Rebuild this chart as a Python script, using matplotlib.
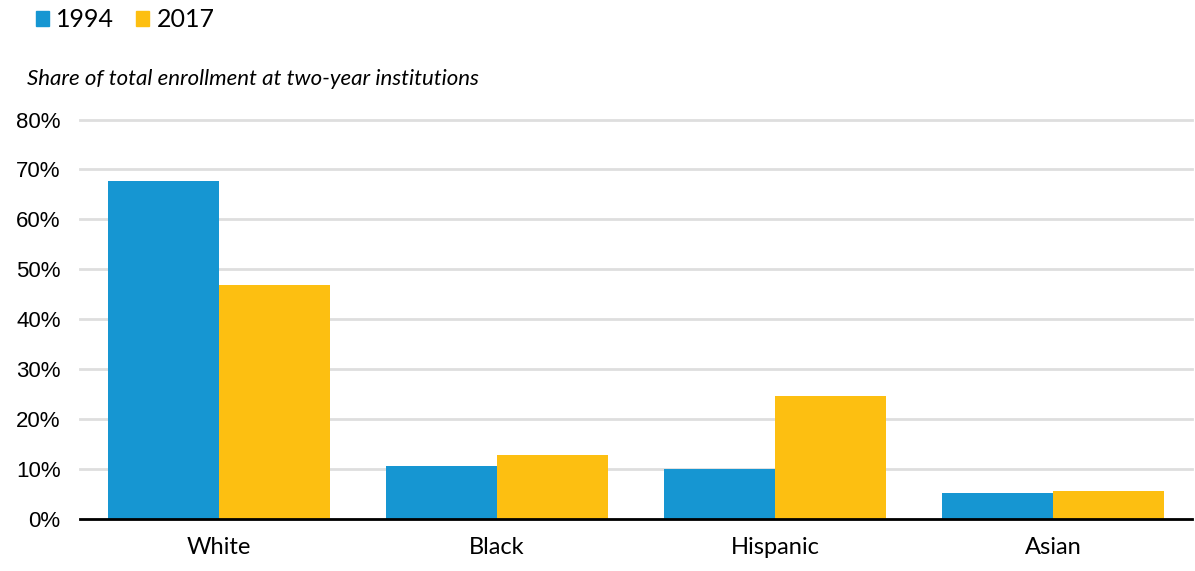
import matplotlib.pyplot as plt
import numpy as np
from matplotlib.patches import Patch

# Share of total enrollment at two-year institutions, by race/ethnicity
categories = ["White", "Black", "Hispanic", "Asian"]
share_1994 = [67.7, 10.7, 10.1, 5.3]
share_2017 = [46.8, 12.9, 24.6, 5.7]
years = ["1994", "2017"]

blue = "#1696d2"
yellow = "#fdbf11"

fig = plt.figure(figsize=(11.95, 5.71), dpi=100)
ax = fig.add_axes([0.0669, 0.0911, 0.9306, 0.6996])

x = np.arange(len(categories))
width = 0.4
ax.bar(x - width / 2, share_1994, width, color=blue, zorder=3)
ax.bar(x + width / 2, share_2017, width, color=yellow, zorder=3)

ax.set_xlim(-0.5, len(categories) - 0.5)
ax.set_ylim(0, 80)
ax.set_yticks(range(0, 81, 10))
ax.set_yticklabels([f"{v}%" for v in range(0, 81, 10)],
                   fontfamily="Liberation Sans", fontsize=16)
ax.set_xticks(x)
ax.set_xticklabels(categories, fontfamily="Lato", fontsize=17)
ax.tick_params(axis="y", length=0, pad=14)
ax.tick_params(axis="x", length=0, pad=13)

ax.grid(axis="y", color="#dedede", linewidth=2, zorder=0)
ax.set_axisbelow(True)
for side in ["top", "right", "left"]:
    ax.spines[side].set_visible(False)
ax.spines["bottom"].set_linewidth(2)
ax.spines["bottom"].set_zorder(4)
for line in ax.get_ygridlines():
    line.set_clip_on(False)

fig.text(0.023, 0.862, "Share of total enrollment at two-year institutions",
         fontfamily="Lato", fontstyle="italic", fontsize=16, va="center")

handles = [Patch(color=blue), Patch(color=yellow)]
fig.legend(handles, years, loc="center left", bbox_to_anchor=(0.011, 0.965),
           ncol=2, frameon=False, handlelength=0.55, handleheight=0.55,
           handletextpad=0.28, columnspacing=0.85,
           prop={"family": "Lato", "size": 18})

fig.savefig("out.png", dpi=100)
